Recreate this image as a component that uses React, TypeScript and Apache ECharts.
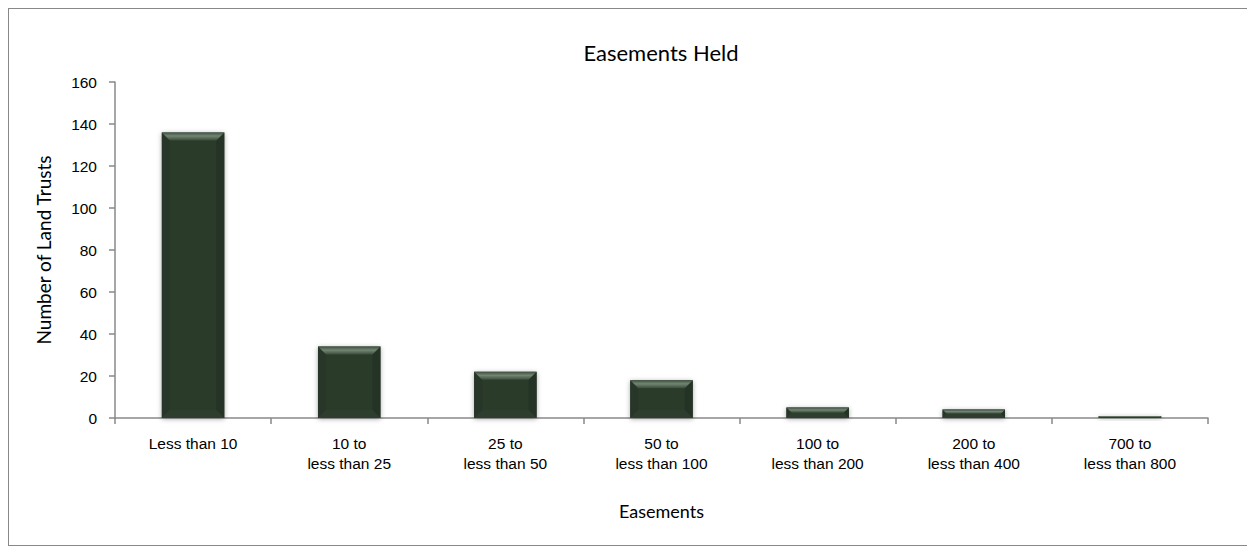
import React, { useEffect, useRef } from "react";
import * as echarts from "echarts";

const categories = [
  "Less than 10",
  "10 to\nless than 25",
  "25 to\nless than 50",
  "50 to\nless than 100",
  "100 to\nless than 200",
  "200 to\nless than 400",
  "700 to\nless than 800",
];
const values = [136, 34, 22, 18, 5, 4, 1];
const yTicks = { min: 0, max: 160, interval: 20 };

const titleText = "Easements Held";
const xName = "Easements";
const yName = "Number of Land Trusts";

export default function App() {
  const ref = useRef<HTMLDivElement>(null);
  useEffect(() => {
    if (!ref.current) return;
    const chart = echarts.init(ref.current, null, { renderer: "svg" });
    const axisColor = "#898989";
    const option = {
      animation: false,
      backgroundColor: "#ffffff",
      grid: { left: 106, right: 39, top: 73, bottom: 127 },
      graphic: [
        {
          type: "text",
          x: 652,
          y: 43,
          style: {
            text: titleText,
            font: '22px Lato, "Open Sans", sans-serif',
            fill: "#000",
            textAlign: "center",
            textVerticalAlign: "middle",
          },
        },
      ],
      xAxis: {
        type: "category",
        data: categories,
        boundaryGap: true,
        name: xName,
        nameLocation: "middle",
        nameGap: 84,
        nameTextStyle: { fontFamily: "Lato, 'Open Sans', sans-serif", fontSize: 18, color: "#000" },
        axisLine: { show: true, lineStyle: { color: axisColor, width: 1.5 } },
        axisTick: { show: true, length: 6, lineStyle: { color: axisColor, width: 1.5 } },
        axisLabel: {
          interval: 0,
          color: "#000",
          fontFamily: "'Liberation Sans', Arial, sans-serif",
          fontSize: 15.5,
          lineHeight: 20,
          margin: 15,
        },
        splitLine: { show: false },
      },
      yAxis: {
        type: "value",
        min: yTicks.min,
        max: yTicks.max,
        interval: yTicks.interval,
        name: yName,
        nameLocation: "middle",
        nameGap: 62,
        nameTextStyle: { fontFamily: "Lato, 'Open Sans', sans-serif", fontSize: 19, color: "#000" },
        axisLine: { show: true, lineStyle: { color: axisColor, width: 1.5 } },
        axisTick: { show: true, length: 6, lineStyle: { color: axisColor, width: 1.5 } },
        axisLabel: {
          color: "#000",
          fontFamily: "'Liberation Sans', Arial, sans-serif",
          fontSize: 15.5,
          margin: 18,
        },
        splitLine: { show: false },
      },
      series: [
        {
          type: "custom",
          encode: { x: 0, y: 1 },
          data: values.map((v, i) => [i, v]),
          renderItem: (params: any, api: any) => {
            const idx = api.value(0);
            const v = api.value(1);
            const top = api.coord([idx, v]);
            const base = api.coord([idx, 0]);
            const w = api.size([1, 0])[0] * 0.4;
            const x0 = top[0] - w / 2;
            const y0 = top[1];
            const h = base[1] - top[1];
            const b = Math.min(8, h / 2);
            const x1 = x0 + w;
            const y1 = y0 + h;
            return {
              type: "group",
              children: [
                {
                  type: "rect",
                  shape: { x: x0, y: y0, width: w, height: h },
                  style: {
                    fill: "#2b3b2c",
                    shadowBlur: 5,
                    shadowColor: "rgba(0,0,0,0.35)",
                    shadowOffsetY: 1,
                  },
                },
                {
                  type: "polygon",
                  shape: { points: [[x0, y0], [x0 + b, y0 + b], [x0 + b, y1 - b], [x0, y1]] },
                  style: { fill: "#273628" },
                },
                {
                  type: "polygon",
                  shape: { points: [[x1, y0], [x1 - b, y0 + b], [x1 - b, y1 - b], [x1, y1]] },
                  style: { fill: "#243325" },
                },
                {
                  type: "polygon",
                  shape: { points: [[x0, y1], [x0 + b, y1 - b], [x1 - b, y1 - b], [x1, y1]] },
                  style: { fill: "#2d3e2e" },
                },
                {
                  type: "polygon",
                  shape: { points: [[x0, y0], [x1, y0], [x1 - b, y0 + b], [x0 + b, y0 + b]] },
                  style: {
                    fill: new echarts.graphic.LinearGradient(0, 0, 0, 1, [
                      { offset: 0, color: "#3e503f" },
                      { offset: 0.45, color: "#728472" },
                      { offset: 1, color: "#3a4b3b" },
                    ]),
                  },
                },
              ],
            };
          },
        },
      ],
    };
    chart.setOption(option as any);
    return () => chart.dispose();
  }, []);
  return (
    <div
      style={{
        width: 1238,
        height: 536,
        border: "1px solid #888",
      }}
    >
      <div ref={ref} style={{ width: 1238, height: 536 }} />
    </div>
  );
}
